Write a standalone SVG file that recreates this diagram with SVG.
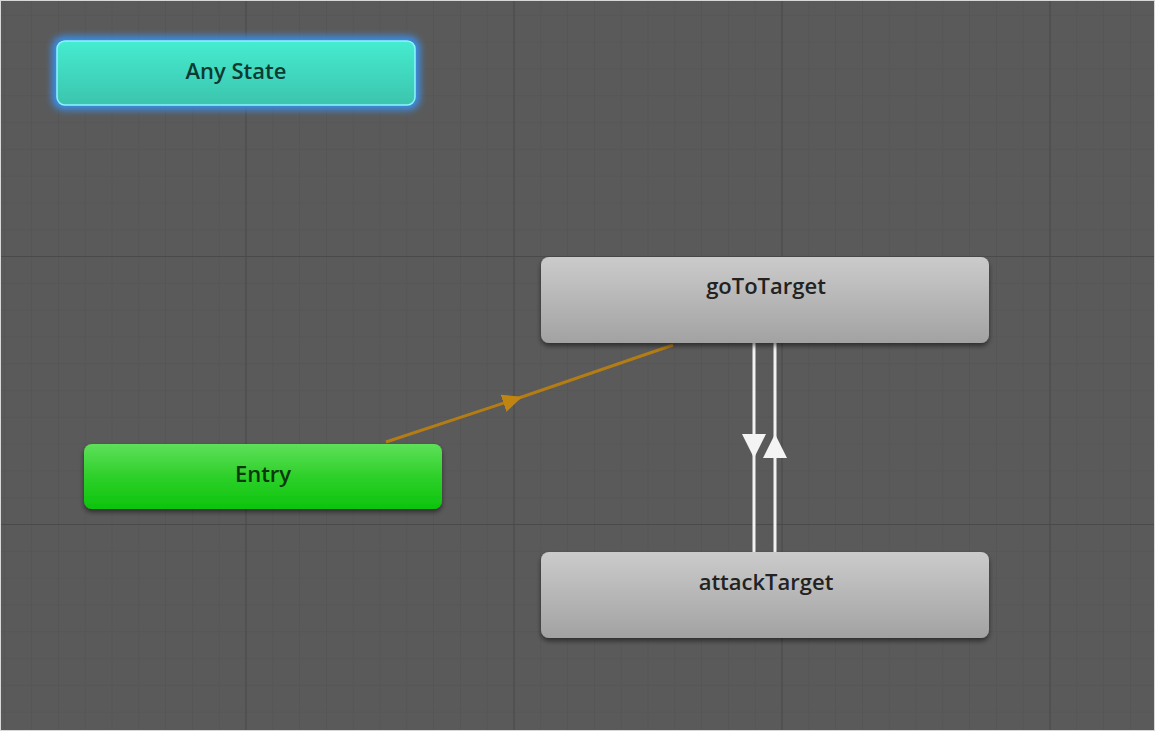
<svg xmlns="http://www.w3.org/2000/svg" width="1155" height="731" viewBox="0 0 1155 731">
<style>
.lbl{font-family:"Open Sans","DejaVu Sans",sans-serif;font-weight:600;font-size:22px;text-anchor:middle;dominant-baseline:central}
.wire{stroke:#f2f2f2;stroke-width:3;fill:none}
</style>
<defs>
<pattern id="minor" x="-22.5" y="-12" width="26.8" height="26.8" patternUnits="userSpaceOnUse">
<path d="M0 0H26.8M0 0V26.8" stroke="#535353" stroke-width="1.2" fill="none"/>
</pattern>
<pattern id="major" x="-22.5" y="-12" width="268" height="268" patternUnits="userSpaceOnUse">
<path d="M0 0H268M0 0V268" stroke="#4a4a4a" stroke-width="2" fill="none"/>
</pattern>
<linearGradient id="gCyan" x1="0" y1="0" x2="0" y2="1">
<stop offset="0" stop-color="#45ecd0"/><stop offset="1" stop-color="#3cc4ae"/>
</linearGradient>
<linearGradient id="gGreen" x1="0" y1="0" x2="0" y2="1">
<stop offset="0" stop-color="#5ee05a"/><stop offset="0.5" stop-color="#2ed02a"/><stop offset="1" stop-color="#0cc40c"/>
</linearGradient>
<linearGradient id="gGray" x1="0" y1="0" x2="0" y2="1">
<stop offset="0" stop-color="#cbcbcb"/><stop offset="1" stop-color="#a2a2a2"/>
</linearGradient>
<filter id="glow" x="-10%" y="-40%" width="120%" height="180%">
<feGaussianBlur stdDeviation="3.5"/>
</filter>
<filter id="shadow" x="-5%" y="-20%" width="110%" height="150%">
<feDropShadow dx="0" dy="3" stdDeviation="2.5" flood-color="#000" flood-opacity="0.5"/>
</filter>
<marker id="arrowW" viewBox="0 0 24 24" refX="12" refY="12" markerWidth="24" markerHeight="24" markerUnits="userSpaceOnUse" orient="auto">
<path d="M0 0L24 12L0 24Z" fill="#f4f4f4"/>
</marker>
<marker id="arrowO" viewBox="0 0 20 20" refX="10" refY="10" markerWidth="20" markerHeight="20" markerUnits="userSpaceOnUse" orient="auto">
<path d="M0 1L20 10L0 19Z" fill="#c08410"/>
</marker>
</defs>
<rect width="1155" height="731" fill="#5a5a5a"/>
<rect width="1155" height="731" fill="url(#minor)"/>
<rect width="1155" height="731" fill="url(#major)"/>
<rect x="0.5" y="0.5" width="1154" height="730" fill="none" stroke="#d8d8d8" stroke-width="1"/>

<g id="connectors">
<path d="M386 442L513 400L673 345" stroke="#b47c14" stroke-width="3" fill="none" marker-mid="url(#arrowO)"/>
<path class="wire" d="M754 343V446V552" marker-mid="url(#arrowW)"/>
<path class="wire" d="M775 552V446V343" marker-mid="url(#arrowW)"/>
</g>

<g id="any-state">
<rect x="52" y="36" width="368" height="74" rx="12" fill="#3a8ee8" filter="url(#glow)"/>
<rect x="57" y="41" width="358" height="64" rx="8" fill="url(#gCyan)" stroke="#8ef4ff" stroke-width="1.5"/>
<text class="lbl" x="236" y="70" fill="#0e3a32">Any State</text>
</g>

<g id="entry">
<rect x="84" y="444" width="358" height="65" rx="8" fill="url(#gGreen)" filter="url(#shadow)"/>
<text class="lbl" x="263" y="473" fill="#0a3a0a">Entry</text>
</g>

<g id="goToTarget">
<rect x="541" y="257" width="448" height="86" rx="8" fill="url(#gGray)" filter="url(#shadow)"/>
<text class="lbl" x="766" y="285" fill="#222">goToTarget</text>
</g>

<g id="attackTarget">
<rect x="541" y="552" width="448" height="86" rx="8" fill="url(#gGray)" filter="url(#shadow)"/>
<text class="lbl" x="766" y="581" fill="#222">attackTarget</text>
</g>
</svg>
